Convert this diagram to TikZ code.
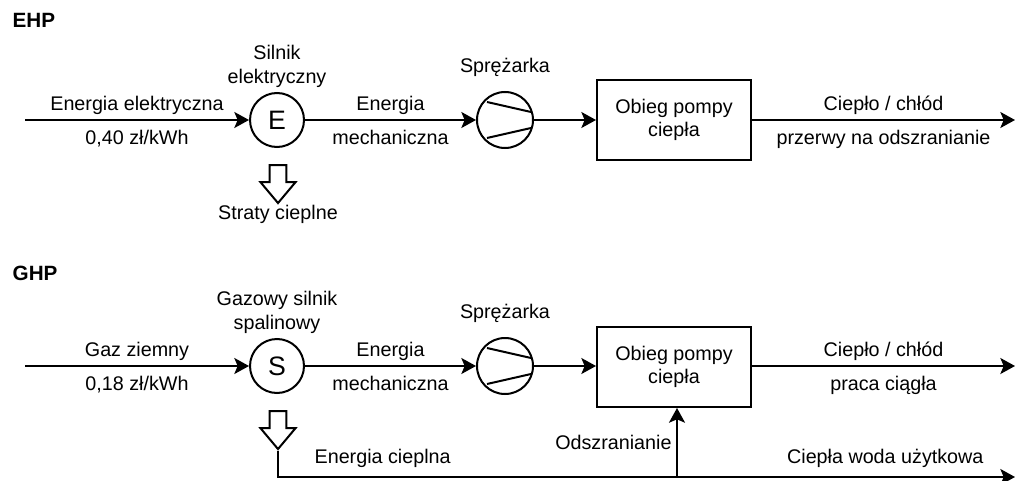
\documentclass[tikz,border=0pt]{standalone}
\usepackage{fontspec}
\setmainfont{Liberation Sans}
\usetikzlibrary{positioning,shapes.arrows,arrows.meta}
\tikzset{
    % Define style for the motor circles
    silnik/.style={
           circle,
           draw=black, line width=1.5pt,
           minimum size=40.5pt, inner sep=0pt,
           font=\fontsize{20}{24}\selectfont},
    % Define style for the compressor symbol
    sprezarka/.style={
           circle,
           draw=black, line width=1.5pt,
           minimum size=42pt, inner sep=0pt},
    % Define style for boxes
    blok/.style={
           rectangle,
           draw=black, line width=1.5pt,
           minimum width=115.5pt, minimum height=60pt,
           align=center},
    % Define style for the hollow loss arrows
    strata/.style={
           single arrow,
           draw=black, line width=1.5pt,
           inner sep=5.6pt,
           single arrow head extend=6.75pt,
           single arrow tip angle=80,
           minimum height=28.5pt,
           shape border rotate=270},
    % Define style for titles
    tytul/.style={
           anchor=west,
           font=\fontsize{15.5}{18}\selectfont\bfseries},
    % Define arrow style
    pil/.style={
           -{Stealth[length=11pt,width=12pt,inset=2.5pt]},
           line width=1.5pt},
    dol/.style={below=3.5pt},
}

\begin{document}
\begin{tikzpicture}[x=0.75pt,y=-0.75pt,font=\fontsize{14.8}{17.5}\selectfont]
\useasboundingbox (0,0) rectangle (1016,481);

% First the EHP line
\node[tytul] (ehp) at (8,20) {EHP};
\node[silnik] (e) at (277,120) {E};
\node[sprezarka] (spr1) at (505,120) {};
\node[blok] (obieg1) at (674,120) {Obieg pompy\\ciepła};
\node[strata] (st1) at (278,179) {};
\coordinate (we1) at (25,120);
\coordinate (wy1) at (1015,120);

\node[align=center, above=0pt of e] (se) {Silnik\\elektryczny};
\node[above=7pt of spr1] (sp1) {Sprężarka};
\node[anchor=north] (stc) at ([yshift=3pt]st1.tip) {Straty cieplne};

\draw[pil] (we1) -- node[above]{Energia elektryczna} node[dol]{0,40 zł/kWh} (e);
\draw[pil] (e) -- node[above]{Energia} node[dol]{mechaniczna} (spr1);
\draw[pil] (spr1) -- (obieg1);
\draw[pil] (obieg1) -- node[above]{Ciepło / chłód} node[dol]{przerwy na odszranianie} (wy1);
\draw[line width=1.5pt] (spr1) ++(-18,-18) -- ++(44,10) (spr1) ++(-18,18) -- ++(44,-10);

% Now the GHP line
\node[tytul] (ghp) at (8,273) {GHP};
\node[silnik] (s) at (277,366) {S};
\node[sprezarka] (spr2) at (505,366) {};
\node[blok] (obieg2) at (674,367) {Obieg pompy\\ciepła};
\node[strata] (st2) at (278,425) {};
\coordinate (we2) at (25,366);
\coordinate (wy2) at (1015,366);
\coordinate (wy3) at (1015,477);
\coordinate (odsz) at (677,477);

\node[align=center, above=0pt of s] (ss) {Gazowy silnik\\spalinowy};
\node[above=7pt of spr2] (sp2) {Sprężarka};

\draw[pil] (we2) -- node[above]{Gaz ziemny} node[dol]{0,18 zł/kWh} (s);
\draw[pil] (s) -- node[above]{Energia} node[dol]{mechaniczna} (spr2);
\draw[pil] (spr2) -- (obieg2.west |- spr2);
\draw[pil] (obieg2.east |- wy2) -- node[above]{Ciepło / chłód} node[dol]{praca ciągła} (wy2);
\draw[line width=1.5pt] (spr2) ++(-18,-18) -- ++(44,10) (spr2) ++(-18,18) -- ++(44,-10);

% Heat from the engine goes to defrosting and hot water
\draw[pil] (st2.tip) |- node[pos=0.571, above=3pt]{Energia cieplna} node[pos=0.912, above=3pt]{Ciepła woda użytkowa} (wy3);
\draw[pil] (odsz) -- node[left]{Odszranianie} (odsz |- obieg2.south);
\end{tikzpicture}
\end{document}
